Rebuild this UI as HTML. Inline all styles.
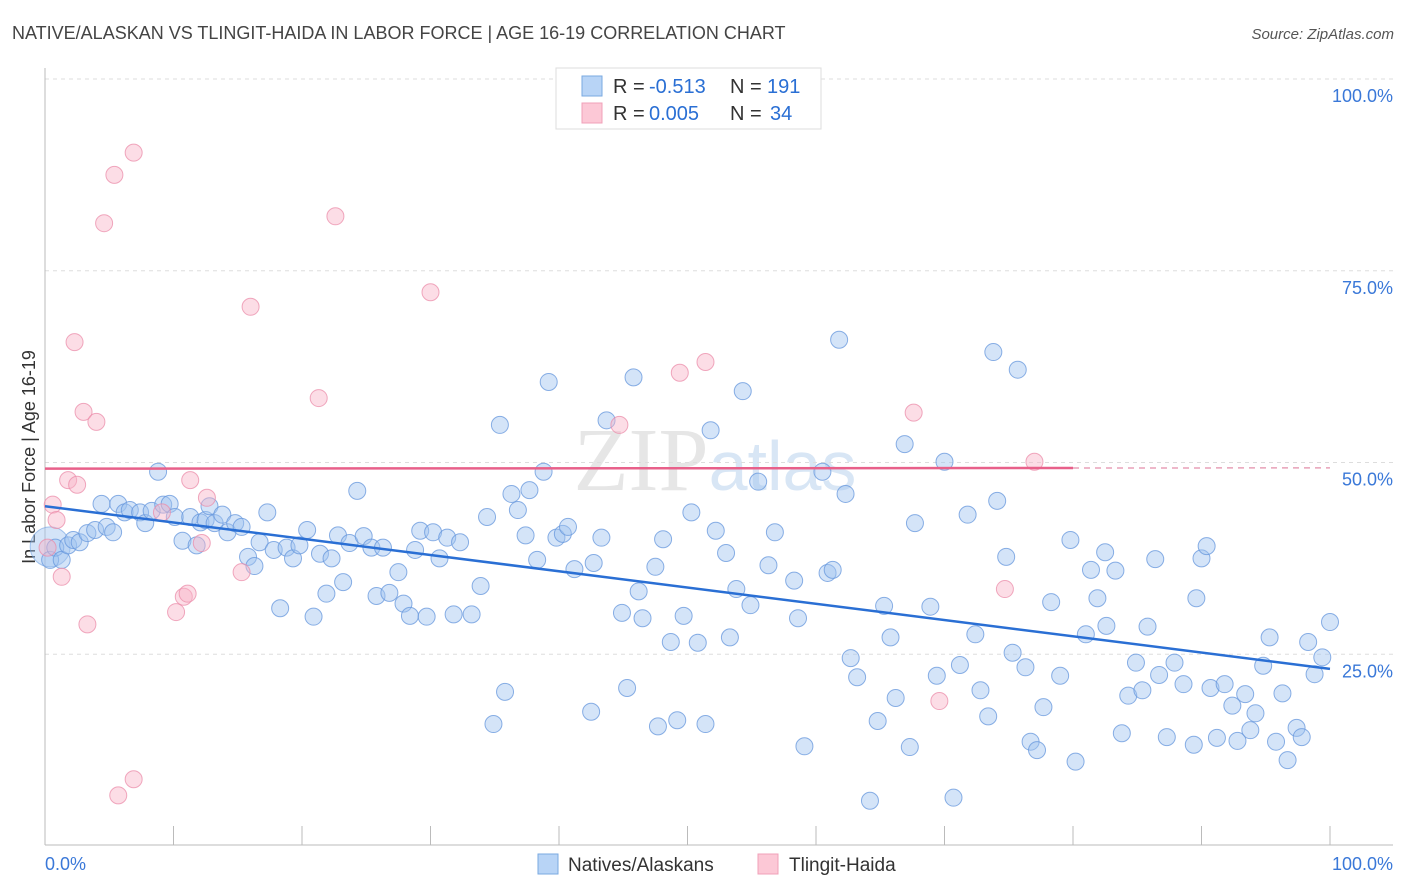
<!DOCTYPE html>
<html><head><meta charset="utf-8"><style>
body{margin:0;background:#fff;font-family:"Liberation Sans",sans-serif;}
svg{display:block}
</style></head><body>
<svg id="chart" width="1406" height="892">
<text x="12" y="39" font-size="18" fill="#444">NATIVE/ALASKAN VS TLINGIT-HAIDA IN LABOR FORCE | AGE 16-19 CORRELATION CHART</text>
<text x="1394" y="39" font-size="15" fill="#555" font-style="italic" text-anchor="end">Source: ZipAtlas.com</text>
<text x="715" y="490" font-size="90" fill="#e6e6e6" text-anchor="middle" font-family="Liberation Serif,serif">ZIP<tspan fill="#d8e6f5" font-family="Liberation Sans,sans-serif" font-size="70">atlas</tspan></text>
<text transform="translate(35,457) rotate(-90)" font-size="18" fill="#333" text-anchor="middle">In Labor Force | Age 16-19</text>
<g id="grid"></g><g id="pts"></g><g id="trend"></g>
<g>
<rect x="556" y="68" width="265" height="61" fill="#fff" stroke="#ddd"/>
<rect x="582" y="76" width="20" height="20" fill="#b8d4f6" stroke="#7aaae0"/>
<rect x="582" y="103" width="20" height="20" fill="#fcc8d6" stroke="#f0a0b8"/>
<text x="613" y="93" font-size="20" fill="#333">R =</text>
<text x="649" y="93" font-size="20" fill="#2a6fd4">-0.513</text>
<text x="730" y="93" font-size="20" fill="#333">N =</text>
<text x="767" y="93" font-size="20" fill="#2a6fd4">191</text>
<text x="613" y="120" font-size="20" fill="#333">R =</text>
<text x="649" y="120" font-size="20" fill="#2a6fd4">0.005</text>
<text x="730" y="120" font-size="20" fill="#333">N =</text>
<text x="770" y="120" font-size="20" fill="#2a6fd4">34</text>
</g>
<g>
<rect x="538" y="854" width="20" height="20" fill="#b8d4f6" stroke="#7aaae0"/>
<text x="568" y="871" font-size="19" fill="#333">Natives/Alaskans</text>
<rect x="758" y="854" width="20" height="20" fill="#fcc8d6" stroke="#f0a0b8"/>
<text x="789" y="871" font-size="19" fill="#333">Tlingit-Haida</text>
</g>
</svg>
<script>
const yTicks=[25,50,75,100];
const yTickLabels=["25.0%","50.0%","75.0%","100.0%"];
const xTickLabels=["0.0%","100.0%"];
const blueX=[0.4,0.8,1.3,1.8,2.2,2.7,3.3,3.9,4.4,4.8,5.3,5.7,6.2,6.6,7.4,7.8,8.3,8.8,9.2,9.7,10.1,10.7,11.3,11.8,12.1,12.5,12.8,13.2,13.8,14.2,14.8,15.3,15.8,16.3,16.7,17.3,17.8,18.3,18.8,19.3,19.8,20.4,20.9,21.4,21.9,22.3,22.8,23.2,23.7,24.3,24.8,25.4,25.8,26.3,26.8,27.5,27.9,28.4,28.8,29.2,29.7,30.2,30.7,31.3,31.8,32.3,33.2,33.9,34.4,34.9,35.4,35.8,36.3,36.8,37.4,37.7,38.3,38.8,39.2,39.8,40.3,40.7,41.2,42.5,42.7,43.3,43.7,44.9,45.3,45.8,46.2,46.5,47.5,47.7,48.1,48.7,49.2,49.7,50.3,50.8,51.4,51.8,52.2,53.0,53.3,53.8,54.3,54.9,55.5,56.3,56.8,58.3,58.6,59.1,60.5,60.9,61.3,61.8,62.3,62.7,63.2,64.2,64.8,65.3,65.8,66.2,66.9,67.3,67.7,68.9,69.4,70.0,70.7,71.2,71.8,72.4,72.8,73.4,73.8,74.1,74.8,75.3,75.7,76.3,76.7,77.2,77.7,78.3,79.0,79.8,80.2,81.0,81.4,81.9,82.5,82.6,83.3,83.8,84.3,84.9,85.4,85.8,86.4,86.7,87.3,87.9,88.6,89.4,89.6,90.0,90.4,90.7,91.2,91.8,92.4,92.8,93.4,93.8,94.2,94.8,95.3,95.8,96.3,96.7,97.4,97.8,98.3,98.8,99.4,100];
const blueY=[37.3,38.9,37.3,39.2,39.9,39.6,40.8,41.2,44.6,41.6,40.9,44.6,43.5,43.8,43.5,42.1,43.7,48.8,44.5,44.6,42.9,39.8,42.9,39.2,42.2,42.5,44.3,42.1,43.2,40.9,42.1,41.6,37.7,36.5,39.6,43.5,38.6,31.0,38.9,37.5,39.2,41.2,29.9,38.1,32.9,37.5,40.5,34.4,39.5,46.3,40.4,38.9,32.6,38.9,33.0,35.7,31.6,30.0,38.6,41.1,29.9,40.9,37.5,40.2,30.2,39.6,30.2,33.9,42.9,15.9,54.9,20.1,45.9,43.8,40.5,46.4,37.3,48.8,60.5,40.2,40.7,41.6,36.1,17.5,36.9,40.2,55.5,30.4,20.6,61.1,33.2,29.7,36.4,15.6,40.0,26.6,16.4,30.0,43.5,26.5,15.9,54.2,41.1,38.2,27.2,33.5,59.3,31.4,47.5,36.6,40.9,34.6,29.7,13.0,48.8,35.6,36.0,66.0,45.9,24.5,22.0,5.9,16.3,31.3,27.2,19.3,52.4,12.9,42.1,31.2,22.2,50.1,6.3,23.6,43.2,27.6,20.3,16.9,64.4,45.0,37.7,25.2,62.1,23.3,13.6,12.5,18.1,31.8,22.2,39.9,11.0,27.6,36.0,32.3,38.3,28.7,35.9,14.7,19.6,23.9,20.3,28.6,37.4,22.3,14.2,23.9,21.1,13.2,32.3,37.5,39.1,20.6,14.1,21.1,18.3,13.7,19.8,15.1,17.3,23.5,27.2,13.6,19.9,11.2,15.4,14.2,26.6,22.4,24.6,29.2];
const pinkX=[0.2,0.6,0.9,1.3,1.8,2.3,2.5,3.0,3.3,4.0,4.6,5.4,5.7,6.9,6.9,9.1,10.2,10.8,11.1,11.3,12.2,12.6,15.3,16.0,21.3,22.6,30.0,44.7,49.4,51.4,67.6,69.6,74.7,77.0];
const pinkY=[38.9,44.5,42.5,35.1,47.7,65.7,47.1,56.6,28.9,55.3,81.2,87.5,6.6,90.4,8.7,43.5,30.5,32.5,32.9,47.7,39.5,45.4,35.7,70.3,58.4,82.1,72.2,54.9,61.7,63.1,56.5,18.9,33.5,50.1];
const blueTrend=[44.3,23.1];
const pinkTrend=[49.2,49.3];
const pinkSolidEnd=80;

const NS="http://www.w3.org/2000/svg";
const X0=45,X1=1330,Y0=846,YSPAN=767;
const xs=v=>X0+(v/100)*(X1-X0);
const ys=v=>Y0-(v/100)*YSPAN;
function mk(tag,attrs,parent){const e=document.createElementNS(NS,tag);for(const k in attrs)e.setAttribute(k,attrs[k]);parent.appendChild(e);return e;}
const grid=document.getElementById('grid');
yTicks.forEach((t,i)=>{
  const l=mk('line',{x1:X0,x2:1393,y1:ys(t),y2:ys(t),stroke:'#ddd','stroke-dasharray':'4,4'},grid);
  
  
  const tx=mk('text',{x:1393,y:ys(t)+23,'font-size':18,fill:'#3a78d8','text-anchor':'end'},grid);
  tx.textContent=yTickLabels[i];
  
  
});
const ax=mk('line',{x1:X0,x2:X0,y1:68,y2:845,stroke:'#bbb'},grid);


const bx=mk('line',{x1:X0,x2:1393,y1:845,y2:845,stroke:'#bbb'},grid);


for(let i=0;i<=10;i++){
  const tk=mk('line',{x1:xs(i*10),x2:xs(i*10),y1:826,y2:845,stroke:'#bbb'},grid);
  
  
}
[0,100].forEach((v,i)=>{
  const t=mk('text',{x:i?1393:45,y:870,'font-size':18,fill:'#3a78d8','text-anchor':i?'end':'start'},grid);
  t.textContent=xTickLabels[i];
  
  
});
const pts=document.getElementById('pts');
const big=mk('circle',{cx:xs(blueX[0]),cy:ys(39),r:20,fill:'rgba(160,196,240,0.45)',stroke:'rgba(110,160,225,0.6)'},pts);


blueX.forEach((x,i)=>{
  const c=mk('circle',{cx:xs(x),cy:ys(blueY[i]),r:8.5,fill:'rgba(160,196,240,0.45)',stroke:'rgba(100,150,220,0.75)','stroke-width':1},pts);
  
  
});
pinkX.forEach((x,i)=>{
  const c=mk('circle',{cx:xs(x),cy:ys(pinkY[i]),r:8.5,fill:'rgba(248,180,200,0.45)',stroke:'rgba(235,140,170,0.75)','stroke-width':1},pts);
  
  
});
const tr=document.getElementById('trend');
const bl=mk('line',{x1:xs(0),y1:ys(blueTrend[0]),x2:xs(100),y2:ys(blueTrend[1]),stroke:'#2a6fd4','stroke-width':2.5},tr);


const pm=pinkTrend[0]+(pinkTrend[1]-pinkTrend[0])*pinkSolidEnd/100;
const pl=mk('line',{x1:xs(0),y1:ys(pinkTrend[0]),x2:xs(pinkSolidEnd),y2:ys(pm),stroke:'#e8608a','stroke-width':2.5},tr);


const pd=mk('line',{x1:xs(pinkSolidEnd),y1:ys(pm),x2:xs(100),y2:ys(pinkTrend[1]),stroke:'#e8a0b8','stroke-width':1.5,'stroke-dasharray':'6,5'},tr);


</script>
</body></html>
